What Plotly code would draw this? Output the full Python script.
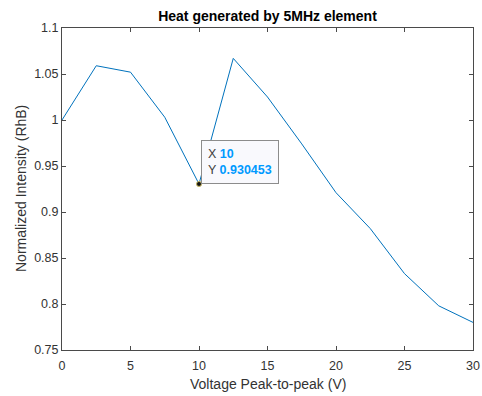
import plotly.graph_objects as go

voltage = [0, 2.5, 5, 7.5, 10, 12.5, 15, 17.5, 20, 22.5, 25, 27.5, 30]
intensity = [1.000, 1.059, 1.052, 1.003, 0.930453, 1.067, 1.025, 0.974, 0.921, 0.882, 0.833, 0.798, 0.780]
x_ticks = [0, 5, 10, 15, 20, 25, 30]
y_ticks = [0.75, 0.8, 0.85, 0.9, 0.95, 1.0, 1.05, 1.1]
y_tick_labels = ["0.75", "0.8", "0.85", "0.9", "0.95", "1", "1.05", "1.1"]
tip_x = 10
tip_y = 0.930453

W, H = 482, 396
L, R, T, B = 62, 9, 28, 46
axis_color = "#4a4a4a"
text_color = "#333333"
font = "Liberation Sans, Arial, sans-serif"

fig = go.Figure()
fig.add_trace(go.Scatter(x=voltage, y=intensity, mode="lines",
                         line=dict(color="#0072BD", width=1), hoverinfo="skip"))
fig.add_trace(go.Scatter(x=[tip_x], y=[tip_y], mode="markers",
                         marker=dict(color="#111111", size=5,
                                     line=dict(color="#c8b860", width=1)),
                         hoverinfo="skip"))

fig.add_annotation(x=tip_x, y=tip_y, xref="x", yref="y",
                   text=("X <b><span style='color:#0099ff'>10</span></b><br>"
                         "Y <b><span style='color:#0099ff'>0.930453</span></b>"),
                   showarrow=True, arrowcolor="rgba(0,0,0,0)", ax=2, ay=0,
                   xanchor="left", yanchor="bottom", align="left",
                   font=dict(family=font, size=12.5, color="#404040"),
                   bgcolor="#f9f9fd", bordercolor="#8c8c8c", borderwidth=1,
                   borderpad=6)

pw, ph = W - L - R, H - T - B
fig.add_annotation(text="Voltage Peak-to-peak (V)", xref="paper", yref="paper",
                   x=0.5, y=-(384 - (H - B)) / ph, xanchor="center", yanchor="middle",
                   showarrow=False, font=dict(family=font, size=14, color=text_color))
fig.add_annotation(text="Normalized Intensity (RhB)", xref="paper", yref="paper",
                   x=(21 - L) / pw, y=0.5, xanchor="center", yanchor="middle",
                   textangle=-90, showarrow=False,
                   font=dict(family=font, size=14, color=text_color))

axis_common = dict(showgrid=False, zeroline=False, showline=True, mirror="ticks",
                   linecolor=axis_color, linewidth=1, ticks="inside", ticklen=4,
                   tickcolor=axis_color, tickwidth=1, automargin=False,
                   tickfont=dict(family=font, size=12.5, color=text_color))

fig.update_xaxes(range=[0, 30], tickvals=x_ticks, ticklabelstandoff=4, **axis_common)
fig.update_yaxes(range=[0.75, 1.1], tickvals=y_ticks, ticktext=y_tick_labels,
                 **axis_common)

fig.update_layout(
    width=W, height=H,
    margin=dict(l=L, r=R, t=T, b=B, pad=0),
    paper_bgcolor="white", plot_bgcolor="white",
    showlegend=False,
    title=dict(text="<b>Heat generated by 5MHz element</b>", x=(L + W - R) / 2 / W,
               xanchor="center", y=1 - 16 / H, yanchor="middle",
               font=dict(family=font, size=14, color="#000000")),
)

fig.write_html("out.html")
